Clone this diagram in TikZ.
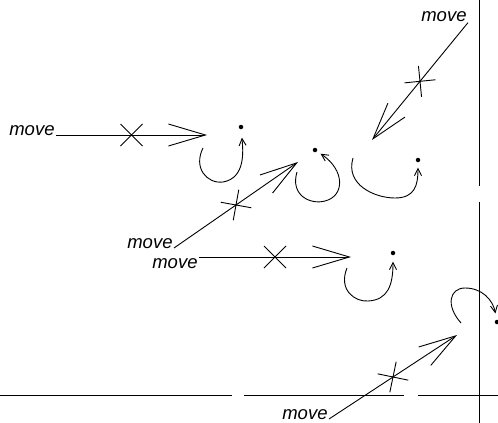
\documentclass[tikz,border=0pt]{standalone}
\usepackage{fontspec}
\setsansfont{Liberation Sans}
\usetikzlibrary{arrows.meta, decorations.markings}

\begin{document}
\begin{tikzpicture}[x=1pt,y=-1pt,line width=0.9pt,
  word/.style={inner sep=1pt,font=\sffamily\itshape\fontsize{18.5}{20}\selectfont},
  dot/.style={circle,fill,inner sep=0pt,minimum size=4.5pt},
  big arrow/.style={-{Straight Barb[length=37pt,width=22pt]}},
  blocked/.style={decoration={markings,mark=at position 0.5 with
      {\draw[-] (-11pt,-11pt) -- (11pt,11pt) (-11pt,11pt) -- (11pt,-11pt);}},
    postaction={decorate}},
  loop arrow/.style={-{Straight Barb[length=7pt,width=7pt]}}]
  \useasboundingbox (0,0) rectangle (498,423);

  % labels
  \node[word,anchor=base east] (m1) at (56,135) {move};
  \node[word,anchor=base east] (m2) at (174,248) {move};
  \node[word,anchor=north east] (m3) at (199,257) {move};
  \node[word,anchor=base east] (m4) at (468,21) {move};
  \node[word,anchor=base east] (m5) at (329,419) {move};

  % positions
  \node[dot] (d1) at (241,127) {};
  \node[dot] (d2) at (315,150) {};
  \node[dot] (d3) at (393,253) {};
  \node[dot] (d4) at (418,160) {};
  \node[dot] (d5) at (497,322) {};

  \coordinate (t1) at (207,135);
  \coordinate (t2) at (298,162);
  \coordinate (t3) at (351,257);
  \coordinate (t4) at (372,140);
  \coordinate (t5) at (457,335);

  \coordinate (s1) at (203,148);
  \coordinate (s2) at (297,172);
  \coordinate (s3) at (347,268);
  \coordinate (s4) at (353,158);
  \coordinate (s5) at (461,323);

  % moves
  \draw[big arrow,blocked] (m1.base east) -- (t1);
  \draw[big arrow,blocked] (m2.base east) -- (t2);
  \draw[big arrow,blocked] (m3.north east) -- (t3);
  \draw[big arrow,blocked] (m4.south east) -- (t4);
  \draw[big arrow,blocked] (m5.base east) -- (t5);

  % loops
  \draw[loop arrow,shorten >=8pt] (s1) .. controls (193,168) and (207,184) .. (223,182)
    .. controls (246,178) and (243,150) .. (d1);
  \draw[loop arrow,shorten >=4pt] (s2) .. controls (290,195) and (310,205) .. (325,201)
    .. controls (345,196) and (345,170) .. (d2);
  \draw[loop arrow,shorten >=6pt] (s3) .. controls (338,290) and (355,302) .. (368,301)
    .. controls (388,300) and (393,285) .. (d3);
  \draw[loop arrow,shorten >=5pt] (s4) .. controls (345,185) and (375,198) .. (395,198)
    .. controls (415,198) and (418,185) .. (d4);
  \draw[loop arrow,shorten >=6pt] (s5) .. controls (445,305) and (450,288) .. (465,288)
    .. controls (482,288) and (493,300) .. (d5);

  % edges
  \draw (0,395) -- (232,395) (244,395) -- (404,395) (418,395) -- (498,395);
  \draw (479,0) -- (479,186) (479,202) -- (479,423);
\end{tikzpicture}
\end{document}
